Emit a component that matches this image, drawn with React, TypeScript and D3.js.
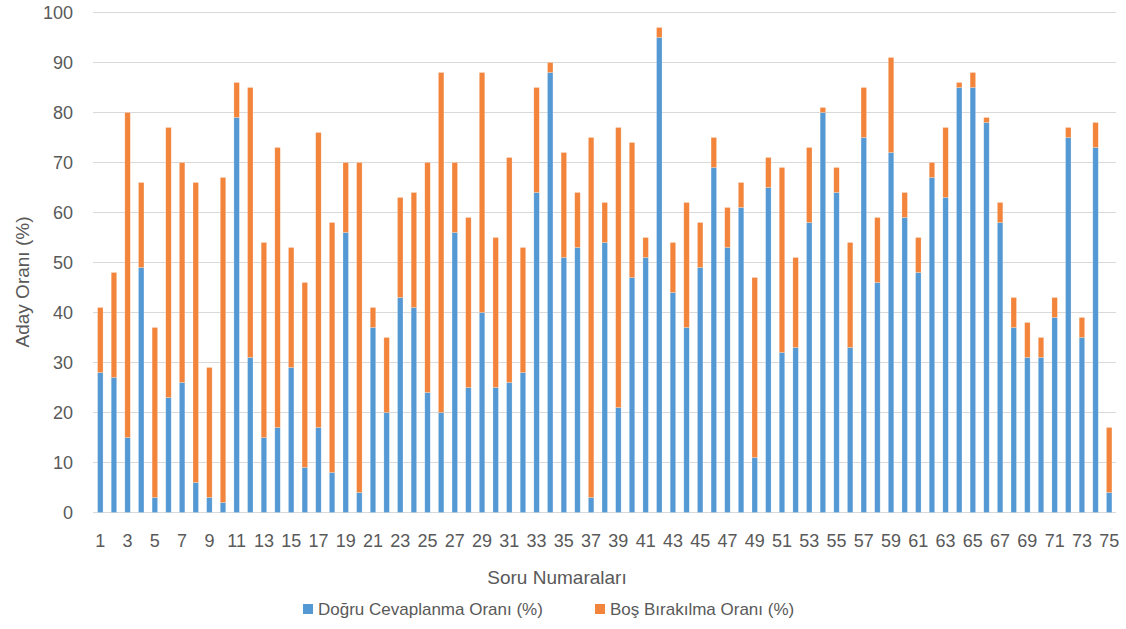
import React from 'react';
import * as d3 from 'd3';

// question numbers 1..75
const questions = [
  '1', '2', '3', '4', '5', '6', '7', '8', '9', '10',
  '11', '12', '13', '14', '15', '16', '17', '18', '19', '20',
  '21', '22', '23', '24', '25', '26', '27', '28', '29', '30',
  '31', '32', '33', '34', '35', '36', '37', '38', '39', '40',
  '41', '42', '43', '44', '45', '46', '47', '48', '49', '50',
  '51', '52', '53', '54', '55', '56', '57', '58', '59', '60',
  '61', '62', '63', '64', '65', '66', '67', '68', '69', '70',
  '71', '72', '73', '74', '75',
];

// Doğru Cevaplanma Oranı (%)
const correct = [
  28, 27, 15, 49, 3, 23, 26, 6, 3, 2,
  79, 31, 15, 17, 29, 9, 17, 8, 56, 4,
  37, 20, 43, 41, 24, 20, 56, 25, 40, 25,
  26, 28, 64, 88, 51, 53, 3, 54, 21, 47,
  51, 95, 44, 37, 49, 69, 53, 61, 11, 65,
  32, 33, 58, 80, 64, 33, 75, 46, 72, 59,
  48, 67, 63, 85, 85, 78, 58, 37, 31, 31,
  39, 75, 35, 73, 4,
];

// Boş Bırakılma Oranı (%)
const blank = [
  13, 21, 65, 17, 34, 54, 44, 60, 26, 65,
  7, 54, 39, 56, 24, 37, 59, 50, 14, 66,
  4, 15, 20, 23, 46, 68, 14, 34, 48, 30,
  45, 25, 21, 2, 21, 11, 72, 8, 56, 27,
  4, 2, 10, 25, 9, 6, 8, 5, 36, 6,
  37, 18, 15, 1, 5, 21, 10, 13, 19, 5,
  7, 3, 14, 1, 3, 1, 4, 6, 7, 4,
  4, 2, 4, 5, 13,
];

const yTicks = [0, 10, 20, 30, 40, 50, 60, 70, 80, 90, 100];

const seriesNames = ['Doğru Cevaplanma Oranı (%)', 'Boş Bırakılma Oranı (%)'];
const colors = ['#5599D4', '#F2843B'];

const W = 1126;
const H = 629;
const font = '"Liberation Sans", Arial, sans-serif';
const textColor = '#595959';

export default function App() {
  const x = d3.scaleBand().domain(questions).range([93.5, 1116]).paddingInner(0.6).paddingOuter(0.3);
  const y = d3.scaleLinear().domain([0, 100]).range([512.5, 12.5]);

  const rows = questions.map((q, i) => ({ q, a: correct[i], b: blank[i] }));
  const stacked = d3.stack<any>().keys(['a', 'b'])(rows);

  return (
    <svg width={W} height={H} style={{ position: 'absolute', left: 0, top: 0 }} fontFamily={font}>
      <rect width={W} height={H} fill="#fff" />
      {/* grid */}
      {yTicks.map(t => (
        <g key={t}>
          <line x1={93} x2={1116} y1={y(t)} y2={y(t)} stroke="#d9d9d9" strokeWidth={1} />
          <text x={73} y={y(t)} dy="0.35em" textAnchor="end" fontSize={18} fill={textColor}>
            {t}
          </text>
        </g>
      ))}

      {/* bars */}
      {stacked.map((s, si) => (
        <g key={si} fill={colors[si]}>
          {s.map((d, i) => (
            <rect
              key={i}
              x={x(questions[i])}
              y={y(d[1])}
              width={x.bandwidth()}
              height={y(d[0]) - y(d[1])}
              stroke="#fff"
              strokeOpacity={0.35}
              strokeWidth={0.6}
            />
          ))}
        </g>
      ))}

      {/* x labels, odd only */}
      {questions.filter((q, i) => i % 2 === 0).map(q => (
        <text key={q} x={(x(q) as number) + x.bandwidth() / 2} y={541} dy="0.35em" textAnchor="middle" fontSize={18} fill={textColor}>
          {q}
        </text>
      ))}

      {/* axis titles */}
      <text x={557} y={577} dy="0.35em" textAnchor="middle" fontSize={19} fill={textColor}>
        Soru Numaraları
      </text>
      <text transform="translate(22,282) rotate(-90)" dy="0.35em" textAnchor="middle" fontSize={19} fill={textColor}>
        Aday Oranı (%)
      </text>

      {/* legend */}
      <g>
        <rect x={303} y={604} width={10} height={10} fill={colors[0]} />
        <text x={318} y={609} dy="0.35em" fontSize={17} fill={textColor}>{seriesNames[0]}</text>
        <rect x={595} y={604} width={10} height={10} fill={colors[1]} />
        <text x={610} y={609} dy="0.35em" fontSize={17} fill={textColor}>{seriesNames[1]}</text>
      </g>
    </svg>
  );
}
